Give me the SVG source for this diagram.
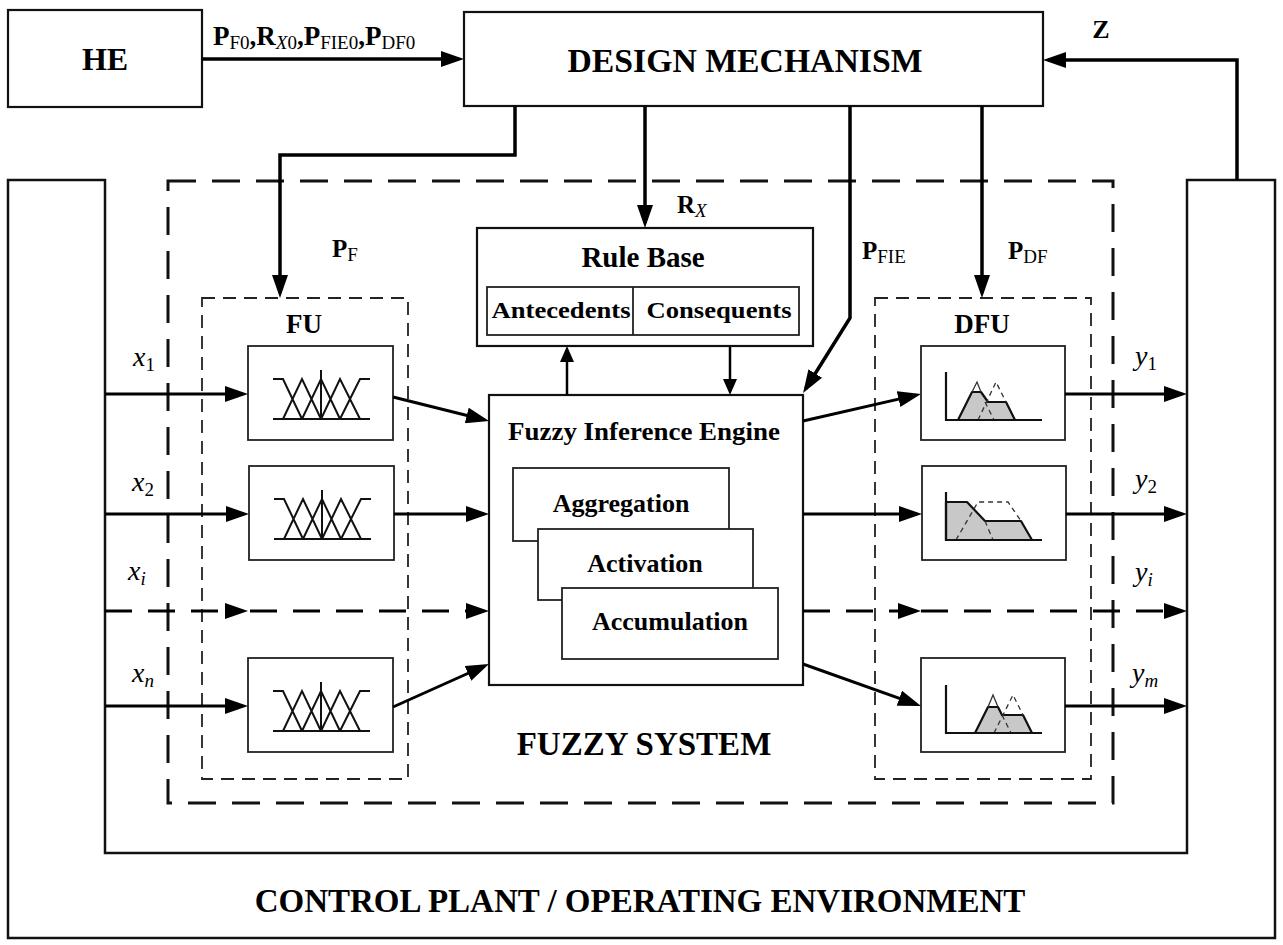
<svg xmlns="http://www.w3.org/2000/svg" xmlns:xlink="http://www.w3.org/1999/xlink" width="1283" height="945" viewBox="0 0 1283 945">
<style>
.box{fill:#fff;stroke:#111;stroke-width:2.2}
.thin{fill:#fff;stroke:#222;stroke-width:1.8}
.dash1{fill:none;stroke:#111;stroke-width:3;stroke-dasharray:28 16}
.dash2{fill:none;stroke:#222;stroke-width:1.8;stroke-dasharray:13 8}
.conn{fill:none;stroke:#000;stroke-width:3.5}
.io{fill:none;stroke:#000;stroke-width:3}
.iod{fill:none;stroke:#000;stroke-width:3;stroke-dasharray:27 16}
.small{fill:none;stroke:#000;stroke-width:2.5}
.t{font-family:"Liberation Serif","Times New Roman",serif;font-weight:bold;fill:#000}
.sub{font-size:19px;font-weight:normal}
.subi{font-size:19px;font-weight:normal;font-style:italic}
.it{font-family:"Liberation Serif","Times New Roman",serif;font-style:italic;font-size:28px;fill:#000}
.isub{font-style:normal;font-size:19px}
.isubi{font-style:italic;font-size:19px}
.mf{fill:none;stroke:#111;stroke-width:2}
.ax{fill:none;stroke:#111;stroke-width:2.2}
.gray{fill:#c8c8c8;stroke:#111;stroke-width:2.2;stroke-linejoin:round}
.pk{fill:none;stroke:#333;stroke-width:1.3}
.dd{fill:none;stroke:#333;stroke-width:1.3;stroke-dasharray:5 4}
</style>
<defs>
<marker id="ah" markerUnits="userSpaceOnUse" markerWidth="23" markerHeight="16" refX="18" refY="8" orient="auto"><path d="M0,0 L23,8 L0,16 Z" fill="#000"/></marker>
<marker id="ahs" markerUnits="userSpaceOnUse" markerWidth="16" markerHeight="14" refX="12" refY="7" orient="auto"><path d="M0,0 L16,7 L0,14 Z" fill="#000"/></marker>
<g id="mfi">
<path class="mf" d="M25,73 H122 M25,33 H35 L54,73 M35,73 L54,33 L73,73 M54,73 L73,33 L92,73 M73,73 L92,33 L112,73 M92,73 L112,33 H122 M73,24 V73"/>
</g>
</defs>
<rect width="1283" height="945" fill="#fff"/>

<g id="plant">
<path d="M8,180 H105 V853 H1187 V180 H1275 V938 H8 Z" fill="none" stroke="#111" stroke-width="2.5"/>
<text class="t" x="640" y="912" font-size="33" text-anchor="middle">CONTROL PLANT / OPERATING ENVIRONMENT</text>
</g>

<g id="fuzzy-system">
<rect class="dash1" x="168" y="181" width="945" height="622"/>
<text class="t" x="644" y="755" font-size="33" text-anchor="middle">FUZZY SYSTEM</text>
</g>

<g id="he">
<rect class="box" x="8" y="10" width="194" height="97"/>
<text class="t" x="105" y="70" font-size="32" text-anchor="middle">HE</text>
</g>

<g id="design-mechanism">
<rect class="box" x="464" y="12" width="579" height="94"/>
<text class="t" x="745" y="72" font-size="34" text-anchor="middle" textLength="355" lengthAdjust="spacingAndGlyphs">DESIGN MECHANISM</text>
</g>

<g id="fu">
<rect class="dash2" x="202" y="298" width="206" height="481"/>
<text class="t" x="304" y="333" font-size="27" text-anchor="middle">FU</text>
<rect class="thin" x="248" y="346" width="145" height="94"/>
<use xlink:href="#mfi" href="#mfi" x="248" y="346"/>
<rect class="thin" x="249" y="466" width="145" height="94"/>
<use xlink:href="#mfi" href="#mfi" x="249" y="466"/>
<rect class="thin" x="248" y="658" width="145" height="94"/>
<use xlink:href="#mfi" href="#mfi" x="248" y="658"/>
</g>

<g id="dfu">
<rect class="dash2" x="875" y="298" width="216" height="481"/>
<text class="t" x="982" y="333" font-size="27" text-anchor="middle">DFU</text>
<rect class="thin" x="921" y="346" width="144" height="94"/>
<g transform="translate(921,346)">
<path class="gray" d="M37,74 L51,46 L60,46 L67,56 L85,56 L94,74 Z"/>
<path class="pk" d="M51,46 L56,36 L60,46"/>
<path class="dd" d="M57,74 L75,36 L85,56 M64,56 L73,74"/>
<path class="ax" d="M25,26 V74 H121"/>
</g>
<rect class="thin" x="922" y="466" width="144" height="94"/>
<g transform="translate(922,466)">
<path class="gray" d="M24,74 V36 H45 L63,55 H99 L110,74 Z"/>
<path class="dd" d="M34,74 L56,36 H86 L99,55 M63,55 L71,74"/>
<path class="ax" d="M24,26 V74 H120"/>
</g>
<rect class="thin" x="921" y="658" width="144" height="94"/>
<g transform="translate(921,658)">
<path class="gray" d="M54,75 L67,49 L77,49 L81,57 L102,57 L111,75 Z"/>
<path class="pk" d="M67,49 L72,37 L77,49"/>
<path class="dd" d="M73,75 L92,37 L102,57 M81,57 L90,75"/>
<path class="ax" d="M25,27 V75 H121"/>
</g>
</g>

<g id="rule-base">
<rect class="box" x="477" y="228" width="336" height="118"/>
<text class="t" x="643" y="267" font-size="29" text-anchor="middle">Rule Base</text>
<rect class="thin" x="487" y="287" width="312" height="48"/>
<line x1="633" y1="287" x2="633" y2="335" stroke="#222" stroke-width="1.8"/>
<text class="t" x="561" y="318" font-size="24" text-anchor="middle" textLength="139" lengthAdjust="spacingAndGlyphs">Antecedents</text>
<text class="t" x="719" y="318" font-size="24" text-anchor="middle" textLength="145" lengthAdjust="spacingAndGlyphs">Consequents</text>
</g>

<g id="fie">
<rect class="box" x="489" y="395" width="314" height="290"/>
<text class="t" x="644" y="440" font-size="26" text-anchor="middle" textLength="272" lengthAdjust="spacingAndGlyphs">Fuzzy Inference Engine</text>
<rect class="thin" x="513" y="468" width="216" height="73"/>
<text class="t" x="621" y="512" font-size="26" text-anchor="middle">Aggregation</text>
<rect class="thin" x="538" y="529" width="215" height="71"/>
<text class="t" x="645" y="572" font-size="26" text-anchor="middle">Activation</text>
<rect class="thin" x="562" y="588" width="216" height="71"/>
<text class="t" x="670" y="630" font-size="26" text-anchor="middle">Accumulation</text>
</g>

<g id="connectors">
<path class="conn" d="M202,59 H459" marker-end="url(#ah)"/>
<path class="conn" d="M1237,180 V60 H1048" marker-end="url(#ah)"/>
<path class="conn" d="M515,106 V155 H280 V293" marker-end="url(#ah)"/>
<path class="conn" d="M645,106 V223" marker-end="url(#ah)"/>
<path class="conn" d="M850,106 V318 L805.7,388.8" marker-end="url(#ah)"/>
<path class="conn" d="M982,106 V293" marker-end="url(#ah)"/>
<path class="io" d="M105,394 H243" marker-end="url(#ah)"/>
<path class="io" d="M105,514 H244" marker-end="url(#ah)"/>
<path class="iod" d="M105,611 H243" marker-end="url(#ah)"/>
<path class="io" d="M105,706 H243" marker-end="url(#ah)"/>
<path class="io" d="M393,397 L484.2,419.8" marker-end="url(#ah)"/>
<path class="io" d="M394,514 H484" marker-end="url(#ah)"/>
<path class="iod" d="M250,611 H484" marker-end="url(#ah)"/>
<path class="io" d="M393,707 L484.4,666" marker-end="url(#ah)"/>
<path class="io" d="M803,421 L916.1,395.1" marker-end="url(#ah)"/>
<path class="io" d="M803,514 H917" marker-end="url(#ah)"/>
<path class="iod" d="M803,611 H916" marker-end="url(#ah)"/>
<path class="io" d="M803,664 L916.3,704.3" marker-end="url(#ah)"/>
<path class="io" d="M1065,394 H1182" marker-end="url(#ah)"/>
<path class="io" d="M1066,514 H1182" marker-end="url(#ah)"/>
<path class="iod" d="M921,611 H1182" marker-end="url(#ah)"/>
<path class="io" d="M1065,706 H1182" marker-end="url(#ah)"/>
<path class="small" d="M567,395 V350" marker-end="url(#ahs)"/>
<path class="small" d="M730,347 V391" marker-end="url(#ahs)"/>
</g>

<g id="labels">
<text class="t" x="213" y="45" font-size="27">P<tspan class="sub" dy="4">F0</tspan><tspan dy="-4">,R</tspan><tspan class="subi" dy="4">X</tspan><tspan class="sub">0</tspan><tspan dy="-4">,P</tspan><tspan class="sub" dy="4">FIE0</tspan><tspan dy="-4">,P</tspan><tspan class="sub" dy="4">DF0</tspan></text>
<text class="t" x="1101" y="38" font-size="26" text-anchor="middle">Z</text>
<text class="t" x="332" y="257" font-size="25">P<tspan class="sub" dy="4">F</tspan></text>
<text class="t" x="677" y="213" font-size="25">R<tspan class="subi" dy="4">X</tspan></text>
<text class="t" x="862" y="259" font-size="25">P<tspan class="sub" dy="4">FIE</tspan></text>
<text class="t" x="1008" y="259" font-size="25">P<tspan class="sub" dy="4">DF</tspan></text>
<text class="it" x="133" y="366">x<tspan class="isub" dy="5">1</tspan></text>
<text class="it" x="132" y="491">x<tspan class="isub" dy="5">2</tspan></text>
<text class="it" x="128" y="580">x<tspan class="isubi" dy="5">i</tspan></text>
<text class="it" x="132" y="682">x<tspan class="isubi" dy="5">n</tspan></text>
<text class="it" x="1135" y="365">y<tspan class="isub" dy="5">1</tspan></text>
<text class="it" x="1135" y="488">y<tspan class="isub" dy="5">2</tspan></text>
<text class="it" x="1135" y="581">y<tspan class="isubi" dy="5">i</tspan></text>
<text class="it" x="1132" y="682">y<tspan class="isubi" dy="5">m</tspan></text>
</g>
</svg>
